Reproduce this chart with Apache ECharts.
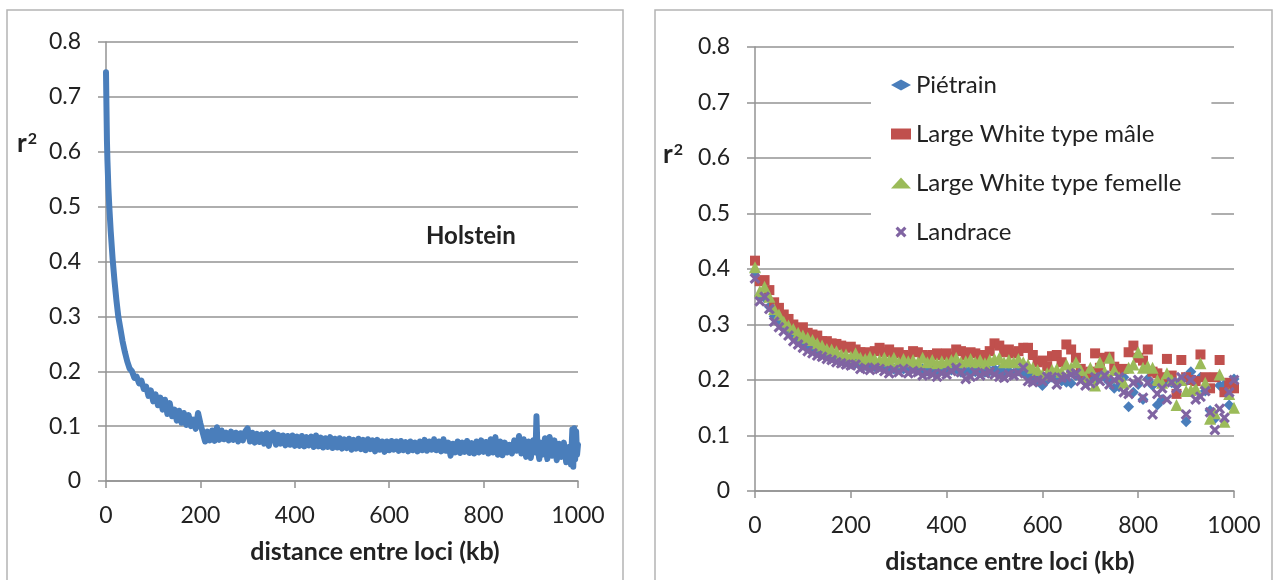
<!DOCTYPE html>
<html>
<head>
<meta charset="utf-8">
<script src="https://cdn.jsdelivr.net/npm/echarts@6/dist/echarts.min.js"></script>
<style>html,body{margin:0;padding:0;background:#fff}#c{width:1278px;height:580px}</style>
</head>
<body>
<div id="c"></div>
<script>
// ---- Data ----
const xTicks = [0, 200, 400, 600, 800, 1000];
const yTicks = [0, 0.1, 0.2, 0.3, 0.4, 0.5, 0.6, 0.7, 0.8];

// Holstein: distance (kb)
const holsteinX = [0,1,2,3,4,5,7,10,14,18,22,26,30,35,40,45,50,55,60,65,70,75,80,85,90,95,100,105,110,115,120,125,130,135,140,145,150,155,160,165,170,175,180,185,190,195,200,205,210,215,220,225,230,235,240,245,250,255,260,265,270,275,280,285,290,295,300,305,310,315,320,325,330,335,340,345,350,355,360,365,370,375,380,385,390,395,400,405,410,415,420,425,430,435,440,445,450,455,460,465,470,475,480,485,490,495,500,505,510,515,520,525,530,535,540,545,550,555,560,565,570,575,580,585,590,595,600,605,610,615,620,625,630,635,640,645,650,655,660,665,670,675,680,685,690,695,700,705,710,715,720,725,730,735,740,745,750,755,760,765,770,775,780,785,790,795,800,805,810,815,820,825,830,835,840,845,850,855,860,865,870,875,880,885,890,895,900,905,910,912,914,918,920,925,930,935,940,945,950,955,960,965,970,975,980,985,988,990,992,994,996,998,1000];
// Holstein: r2
const holsteinR2 = [0.745,0.68,0.62,0.585,0.56,0.535,0.50,0.455,0.405,0.365,0.33,0.30,0.28,0.255,0.235,0.218,0.205,
0.200,0.188,0.190,0.178,0.183,0.168,0.172,0.155,0.165,0.145,0.158,0.138,0.152,0.130,0.148,0.122,0.142,0.118,0.130,0.110,0.128,0.106,0.124,0.102,0.120,0.100,0.112,0.095,0.124,0.105,0.088,
0.072,0.090,0.074,0.092,0.073,0.098,0.075,0.092,0.076,0.088,0.074,0.090,0.075,0.088,0.072,0.087,0.074,0.090,0.096,0.072,0.088,0.070,0.086,0.071,0.085,0.068,0.087,0.064,0.085,0.088,0.066,0.084,0.068,0.083,0.065,0.082,0.066,0.083,
0.064,0.081,0.064,0.082,0.063,0.080,0.065,0.081,0.062,0.083,0.063,0.079,0.061,0.078,0.062,0.080,0.060,0.077,0.061,0.078,
0.059,0.076,0.060,0.077,0.057,0.075,0.059,0.077,0.058,0.075,0.056,0.076,0.058,0.074,0.054,0.075,0.057,0.072,0.053,0.072,
0.056,0.073,0.057,0.072,0.055,0.073,0.056,0.071,0.054,0.072,0.056,0.070,0.054,0.072,0.056,0.075,0.055,0.072,0.057,0.076,
0.056,0.072,0.054,0.076,0.055,0.070,0.046,0.068,0.052,0.072,0.051,0.070,0.053,0.073,0.051,0.069,0.050,0.072,0.052,0.074,
0.053,0.071,0.050,0.076,0.052,0.080,0.048,0.072,0.047,0.070,0.052,0.066,0.050,0.074,0.055,0.082,0.050,0.076,0.044,0.072,
0.042,0.074,0.052,0.118,0.064,0.040,0.070,0.048,0.078,0.040,0.080,0.046,0.074,0.038,0.068,0.044,0.070,0.034,0.062,0.030,0.094,0.026,0.096,0.040,0.090,0.048,0.066];

// Porcs: distance (kb), every 10 kb
const pigX = [0,10,20,30,40,50,60,70,80,90,100,110,120,130,140,150,160,170,180,190,200,210,220,230,240,250,260,270,280,290,300,310,320,330,340,350,360,370,380,390,400,410,420,430,440,450,460,470,480,490,500,510,520,530,540,550,560,570,580,590,600,610,620,630,640,650,660,670,680,690,700,710,720,730,740,750,760,770,780,790,800,810,820,830,840,850,860,870,880,890,900,910,920,930,940,950,960,970,980,990,1000];

const pietrain = [0.395,0.352,0.348,0.332,0.315,0.305,0.295,0.285,0.278,0.272,0.266,0.260,0.256,0.252,0.248,0.244,0.242,0.240,0.236,0.234,0.232,0.230,0.228,0.226,0.228,0.224,0.225,0.222,0.224,0.220,0.222,0.220,0.218,0.221,0.218,0.220,0.216,0.219,0.215,0.218,0.216,0.218,0.220,0.214,0.216,0.218,0.215,0.217,0.214,0.216,0.220,0.218,0.214,0.216,0.212,0.216,0.214,0.210,0.205,0.198,0.190,0.200,0.205,0.202,0.198,0.196,0.194,0.208,0.205,0.198,0.204,0.200,0.210,0.205,0.196,0.185,0.188,0.205,0.152,0.178,0.192,0.165,0.202,0.190,0.155,0.165,0.200,0.195,0.190,0.200,0.125,0.215,0.198,0.205,0.180,0.145,0.130,0.190,0.192,0.155,0.202];

const lwMale = [0.415,0.378,0.380,0.362,0.340,0.330,0.318,0.310,0.300,0.292,0.295,0.285,0.282,0.280,0.270,0.270,0.266,0.265,0.262,0.258,0.260,0.255,0.250,0.250,0.248,0.252,0.258,0.250,0.255,0.248,0.250,0.245,0.242,0.252,0.250,0.245,0.242,0.245,0.248,0.245,0.248,0.242,0.255,0.252,0.245,0.250,0.248,0.245,0.242,0.252,0.266,0.262,0.250,0.255,0.248,0.252,0.258,0.258,0.245,0.232,0.235,0.225,0.243,0.245,0.232,0.264,0.255,0.240,0.220,0.212,0.215,0.248,0.222,0.240,0.242,0.224,0.218,0.220,0.250,0.262,0.240,0.235,0.255,0.215,0.212,0.205,0.238,0.208,0.175,0.236,0.205,0.200,0.198,0.246,0.205,0.185,0.205,0.236,0.178,0.195,0.185];

const lwFemelle = [0.403,0.360,0.368,0.350,0.328,0.318,0.305,0.298,0.292,0.285,0.280,0.276,0.272,0.266,0.262,0.256,0.255,0.252,0.246,0.246,0.242,0.248,0.240,0.238,0.242,0.238,0.236,0.240,0.235,0.240,0.232,0.238,0.234,0.236,0.232,0.240,0.232,0.236,0.230,0.234,0.232,0.236,0.240,0.232,0.234,0.238,0.232,0.236,0.230,0.236,0.238,0.240,0.232,0.236,0.232,0.238,0.232,0.228,0.222,0.218,0.210,0.212,0.218,0.220,0.215,0.228,0.222,0.232,0.218,0.205,0.222,0.190,0.232,0.215,0.240,0.218,0.205,0.195,0.222,0.228,0.250,0.222,0.225,0.222,0.200,0.195,0.212,0.200,0.155,0.200,0.180,0.182,0.185,0.230,0.195,0.130,0.140,0.210,0.125,0.175,0.150];

const landrace = [0.383,0.342,0.350,0.328,0.305,0.295,0.288,0.280,0.270,0.264,0.258,0.252,0.248,0.244,0.242,0.238,0.236,0.232,0.230,0.228,0.226,0.228,0.220,0.222,0.218,0.222,0.220,0.216,0.212,0.218,0.214,0.220,0.212,0.216,0.214,0.208,0.212,0.210,0.206,0.212,0.210,0.216,0.222,0.214,0.202,0.206,0.214,0.208,0.212,0.215,0.210,0.206,0.204,0.210,0.208,0.212,0.222,0.198,0.196,0.200,0.198,0.206,0.205,0.192,0.204,0.206,0.210,0.212,0.198,0.190,0.194,0.205,0.198,0.208,0.192,0.200,0.205,0.178,0.175,0.195,0.200,0.168,0.195,0.138,0.175,0.185,0.165,0.196,0.185,0.205,0.138,0.200,0.165,0.170,0.180,0.142,0.110,0.148,0.132,0.178,0.200];

const seriesNames = ['Piétrain', 'Large White type mâle', 'Large White type femelle', 'Landrace'];

// ---- Chart ----
const FONT = 'Lato, "Open Sans", sans-serif';
const TXT = '#222';
const GRID = '#939393';
const zip = (xs, ys) => xs.map((x, i) => [x, ys[i]]);

function xAxisCfg(gi, padLeft) {
  return {
    gridIndex: gi, type: 'value', min: 0, max: 1000, interval: 200,
    name: 'distance entre loci (kb)', nameLocation: 'middle', nameGap: 58,
    nameTextStyle: {fontFamily: FONT, fontWeight: 'bold', fontSize: 25, color: TXT, padding: [0, 0, 0, padLeft]},
    axisLine: {show: true, lineStyle: {color: GRID, width: 1.5}},
    axisTick: {show: true, length: 7, lineStyle: {color: GRID, width: 1.5}},
    axisLabel: {fontFamily: FONT, fontSize: 23, color: TXT, margin: 23, formatter: v => String(v)},
    splitLine: {show: false}
  };
}
function yAxisCfg(gi) {
  return {
    gridIndex: gi, type: 'value', min: 0, max: 0.8, interval: 0.1,
    axisLine: {show: true, lineStyle: {color: GRID, width: 1.5}},
    axisTick: {show: true, length: 8, lineStyle: {color: GRID, width: 1.5}},
    axisLabel: {fontFamily: FONT, fontSize: 23, color: TXT, margin: 25,
      formatter: v => (Math.round(v * 10) / 10).toString()},
    splitLine: {show: true, lineStyle: {color: GRID, width: 1.5}}
  };
}

const xMarker = 'path://M0,2 L2,0 L5,3 L8,0 L10,2 L7,5 L10,8 L8,10 L5,7 L2,10 L0,8 L3,5 Z';

function r2Label(left, top) {
  return {type: 'text', left: left, top: top, style: {
    text: '{r|r}{s|2}',
    rich: {
      r: {font: 'bold 26px ' + FONT, fill: TXT, verticalAlign: 'bottom'},
      s: {font: 'bold 16px ' + FONT, fill: TXT, verticalAlign: 'top', padding: [0, 0, 10, 1]}
    }
  }};
}

const chart = echarts.init(document.getElementById('c'), null, {renderer: 'canvas'});
chart.setOption({
  animation: false,
  backgroundColor: '#fff',
  textStyle: {fontFamily: FONT},
  grid: [
    {left: 106, right: 700, top: 42, bottom: 99},
    {left: 755, right: 44, top: 47, bottom: 89}
  ],
  xAxis: [xAxisCfg(0, 66), xAxisCfg(1, 31)],
  yAxis: [yAxisCfg(0), yAxisCfg(1)],
  legend: {
    data: seriesNames,
    orient: 'vertical', left: 871, top: 65,
    backgroundColor: '#fff',
    padding: [7, 30, 10, 20],
    itemGap: 23, itemWidth: 20, itemHeight: 11,
    textStyle: {fontFamily: FONT, fontSize: 24, color: TXT, lineHeight: 26}
  },
  graphic: [
    {type: 'rect', shape: {x: 7, y: 10, width: 616, height: 600}, style: {fill: 'none', stroke: '#b4b4b4', lineWidth: 1.5}, silent: true},
    {type: 'rect', shape: {x: 655, y: 10, width: 617, height: 600}, style: {fill: 'none', stroke: '#b4b4b4', lineWidth: 1.5}, silent: true},
    r2Label(17, 131),
    r2Label(663, 142),
    {type: 'text', left: 426, top: 224, style: {text: 'Holstein', font: 'bold 24px ' + FONT, fill: TXT}}
  ],
  series: [
    {name: 'Holstein', type: 'line', xAxisIndex: 0, yAxisIndex: 0, data: zip(holsteinX, holsteinR2),
      showSymbol: false, smooth: false, clip: false,
      lineStyle: {color: '#4A7EBB', width: 6, join: 'round', cap: 'round'}, itemStyle: {color: '#4A7EBB'}},
    {name: seriesNames[0], type: 'scatter', xAxisIndex: 1, yAxisIndex: 1, data: zip(pigX, pietrain),
      symbol: 'diamond', symbolSize: 11, itemStyle: {color: '#4A7EBB', opacity: 1}},
    {name: seriesNames[1], type: 'scatter', xAxisIndex: 1, yAxisIndex: 1, data: zip(pigX, lwMale),
      symbol: 'rect', symbolSize: 10, itemStyle: {color: '#C0504D', opacity: 1}},
    {name: seriesNames[2], type: 'scatter', xAxisIndex: 1, yAxisIndex: 1, data: zip(pigX, lwFemelle),
      symbol: 'triangle', symbolSize: 12, itemStyle: {color: '#9BBB59', opacity: 1}},
    {name: seriesNames[3], type: 'scatter', xAxisIndex: 1, yAxisIndex: 1, data: zip(pigX, landrace),
      symbol: xMarker, symbolSize: 11, itemStyle: {color: '#8064A2', opacity: 1}}
  ]
});
</script>
</body>
</html>
